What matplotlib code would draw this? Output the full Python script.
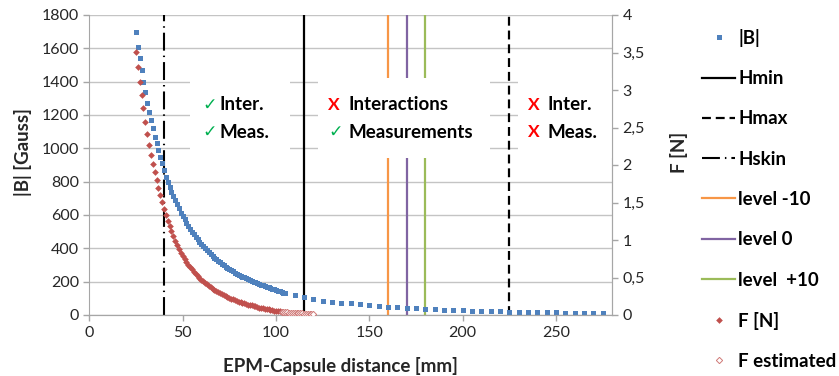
import numpy as np
import matplotlib
matplotlib.use("Agg")
import matplotlib.pyplot as plt
from matplotlib.lines import Line2D
from matplotlib.patches import Rectangle
from matplotlib.ticker import FuncFormatter

plt.rcParams["font.family"] = ["Lato", "DejaVu Sans"]

# measured |B| [Gauss], 1 mm steps from 25 to 105 mm
b_dist = np.arange(25, 106)
b_gauss = [1700, 1610, 1540, 1470, 1400, 1340, 1270, 1220, 1170, 1120,
           1070, 1030, 990, 950, 910, 870, 830, 800, 770, 740,
           715, 690, 665, 640, 615, 595, 575, 555, 535, 515,
           500, 485, 470, 455, 440, 425, 412, 400, 388, 376,
           365, 354, 344, 334, 325, 316, 307, 299, 291, 283,
           276, 269, 262, 255, 249, 243, 237, 231, 226, 220,
           215, 210, 205, 200, 196, 191, 187, 183, 179, 175,
           170, 166, 162, 158, 154, 150, 146, 142, 139, 135, 132]

# sparse |B| points, 5 mm steps from 110 to 275 mm
b2_dist = np.arange(110, 276, 5)
b2_gauss = [120, 110, 96, 86, 80, 74, 70, 64, 60, 54, 50, 46, 42, 40, 37, 35, 32,
            30, 29, 27, 26, 25, 22, 21, 20, 19, 18, 17, 16, 15, 15, 14, 13, 12]

# measured force [N], 25..102 mm
f_dist = np.arange(25, 103)
f_newton = [3.51, 3.31, 3.11, 2.93, 2.76, 2.58, 2.42, 2.27, 2.13, 2.02,
            1.91, 1.80, 1.69, 1.60, 1.51, 1.42, 1.34, 1.26, 1.19, 1.12,
            1.05, 0.99, 0.93, 0.88, 0.83, 0.79, 0.75, 0.71, 0.67, 0.64,
            0.61, 0.58, 0.55, 0.52, 0.50, 0.47, 0.45, 0.43, 0.41, 0.39,
            0.37, 0.35, 0.34, 0.32, 0.31, 0.29, 0.28, 0.27, 0.25, 0.24,
            0.23, 0.22, 0.21, 0.20, 0.19, 0.18, 0.17, 0.165, 0.16, 0.15,
            0.14, 0.135, 0.13, 0.12, 0.115, 0.11, 0.10, 0.095, 0.09, 0.085,
            0.08, 0.075, 0.07, 0.065, 0.06, 0.055, 0.05, 0.047]

# estimated force [N], 103..120 mm
fe_dist = np.arange(103, 121)
fe_newton = [0.044, 0.041, 0.038, 0.035, 0.033, 0.031, 0.029, 0.027, 0.025,
             0.023, 0.022, 0.021, 0.020, 0.019, 0.018, 0.017, 0.016, 0.015]

# vertical reference distances [mm]
h_min, h_max, h_skin = 115, 225, 40
levels = {"level -10": 160, "level 0": 170, "level  +10": 180}

BLUE, RED = "#4F81BD", "#C0504D"
LEVEL_COLORS = ["#F79646", "#8064A2", "#9BBB59"]
GRID = "#C4C4C4"
TXT = "#262626"
FS = 13.5

fig = plt.figure(figsize=(8.39, 3.76), dpi=100)
ax = fig.add_axes([89.3 / 839, 1 - 315 / 376, (612 - 89.3) / 839, 300 / 376])
ax2 = ax.twinx()

ax.set_xlim(0, 280)
ax.set_ylim(0, 1800)
ax.set_yticks(np.arange(0, 1801, 200))
ax.set_xticks(np.arange(0, 251, 50))
ax2.set_ylim(0, 4)
ax2.set_yticks(np.arange(0, 4.01, 0.5))
ax2.yaxis.set_major_formatter(FuncFormatter(lambda v, p: f"{v:g}".replace(".", ",")))

ax.grid(axis="y", color=GRID, lw=1)
ax.set_axisbelow(True)
for a in (ax, ax2):
    a.spines["top"].set_visible(False)
    for s in ("left", "right", "bottom"):
        a.spines[s].set_color("#A6A6A6")
    a.tick_params(colors="#A6A6A6", labelcolor=TXT, labelsize=11.5, length=4, width=1)
ax2.spines["left"].set_visible(False)
ax.tick_params(axis="x", pad=4)

# vertical lines
ax.axvline(h_skin, color="black", lw=1.5, dashes=(8.6, 2.4, 0.7, 2.4), zorder=2)
ax.axvline(h_min, color="black", lw=1.6, zorder=2)
ax.axvline(h_max, color="black", lw=1.6, dashes=(4, 2.2), zorder=2)
for (name, xv), c in zip(levels.items(), LEVEL_COLORS):
    ax.axvline(xv, color=c, lw=1.6, zorder=2)

# data
ax.plot(b_dist, b_gauss, ls="", marker="s", ms=3.6, color=BLUE, mew=0, zorder=4)
ax.plot(b2_dist, b2_gauss, ls="", marker="s", ms=3.6, color=BLUE, mew=0, zorder=4)
ax2.plot(f_dist, f_newton, ls="", marker="D", ms=3.4, color=RED, mew=0, zorder=4)
ax2.plot(fe_dist, fe_newton, ls="", marker="D", ms=3.2, mfc="white", mec="#D07A78",
         mew=0.7, zorder=4)

# white text boxes
for x0, x1 in [(53.9, 107.5), (122.5, 214.6), (229.6, 280)]:
    ax.add_patch(Rectangle((x0, 942), x1 - x0, 480, facecolor="white",
                           edgecolor="none", zorder=3))

GREEN_C, RED_X = "#00B050", "#FF0000"
rows = [1260, 1098]
boxes = [
    (60.4, 69.5, [("\u2713", GREEN_C, "Inter."), ("\u2713", GREEN_C, "Meas.")]),
    (128.0, 138.6, [("X", RED_X, "Interactions"), ("\u2713", GREEN_C, "Measurements")]),
    (235.0, 245.7, [("X", RED_X, "Inter."), ("X", RED_X, "Meas.")]),
]
for xs, xw, items in boxes:
    for yv, (sym, col, word) in zip(rows, items):
        ax.text(xs, yv, sym, color=col, fontsize=FS - 1, fontweight="bold",
                ha="left", va="center", zorder=5,
                family=["DejaVu Sans"] if sym != "X" else ["Lato", "DejaVu Sans"])
        ax.text(xw, yv, word, color="black", fontsize=FS, fontweight="bold",
                ha="left", va="center", zorder=5)

ax.set_xlabel("EPM-Capsule distance [mm]", fontsize=FS, fontweight="bold", color=TXT)
ax.xaxis.set_label_coords(0.48, -0.14)
ax.set_ylabel("|B| [Gauss]", fontsize=FS, fontweight="bold", color=TXT)
ax.yaxis.set_label_coords(-0.11, 0.543)
ax2.set_ylabel("F [N]", fontsize=FS, fontweight="bold", color=TXT)
ax2.yaxis.set_label_coords(1.111, 0.543)

# legend
handles = [
    Line2D([], [], ls="", marker="s", ms=3.6, color=BLUE, mew=0),
    Line2D([], [], color="black", lw=1.6),
    Line2D([], [], color="black", lw=1.6, dashes=(4, 2.2)),
    Line2D([], [], color="black", lw=1.5, dashes=(8.6, 2.4, 0.7, 2.4)),
] + [Line2D([], [], color=c, lw=1.6) for c in LEVEL_COLORS] + [
    Line2D([], [], ls="", marker="D", ms=3.4, color=RED, mew=0),
    Line2D([], [], ls="", marker="D", ms=3.2, mfc="white", mec="#D07A78", mew=0.7),
]
labels = ["|B|", "Hmin", "Hmax", "Hskin"] + list(levels.keys()) + ["F [N]", "F estimated"]
fig.legend(handles, labels, loc="upper left", bbox_to_anchor=(702 / 839, 1 - 29 / 376),
           frameon=False, prop={"size": FS, "weight": "bold"}, handlelength=1.76,
           handletextpad=0.16, labelspacing=1.24, borderaxespad=0, borderpad=0)

fig.savefig("out.png", dpi=100)
